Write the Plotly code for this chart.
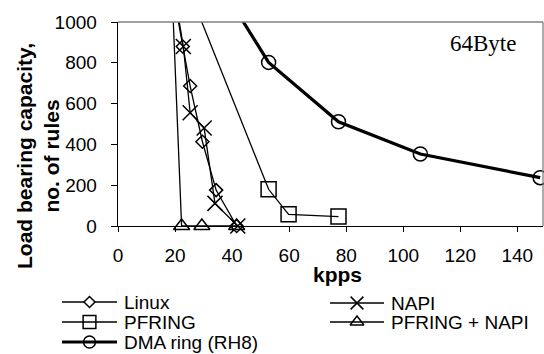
import plotly.graph_objects as go

# ---------------- data ----------------
x_ticks = [0, 20, 40, 60, 80, 100, 120, 140]
y_ticks = [0, 200, 400, 600, 800, 1000]

linux_x = [20.0, 22.7, 25.3, 29.6, 34.4, 41.6]
linux_y = [1090, 880, 686, 413, 176, 0]

napi_x = [20.3, 22.9, 25.3, 30.2, 34.0, 42.0]
napi_y = [1100, 880, 555, 480, 111, 0]

pfring_x = [26.5, 52.8, 59.8, 77.3]
pfring_y = [1100, 180, 57, 46]

pfnapi_x = [19.1, 22.3, 29.4, 41.6]
pfnapi_y = [1100, 0, 0, 0]

dma_x = [39.5, 52.8, 77.3, 106.0, 148.0]
dma_y = [1100, 802, 511, 353, 237]

series_names = ["Linux", "NAPI", "PFRING", "PFRING + NAPI", "DMA ring (RH8)"]

# ---------------- layout geometry (pixels) ----------------
W, H = 544, 354
PL, PR, PT, PB = 118, 543, 22, 226
Y_MAX = 1000

def px(x):
    return x / W

def py(y):
    return 1 - y / H

FONT = "Liberation Sans, Arial, sans-serif"

styles = {
    "Linux": dict(symbol="diamond-open", size=10, lw=1.3),
    "NAPI": dict(symbol="x-thin-open", size=15, lw=1.3),
    "PFRING": dict(symbol="square-open", size=15, lw=1.3),
    "PFRING + NAPI": dict(symbol="triangle-up-open", size=14, lw=1.3),
    "DMA ring (RH8)": dict(symbol="circle-open", size=14, lw=3.2),
}

data = {
    "Linux": (linux_x, linux_y),
    "NAPI": (napi_x, napi_y),
    "PFRING": (pfring_x, pfring_y),
    "PFRING + NAPI": (pfnapi_x, pfnapi_y),
    "DMA ring (RH8)": (dma_x, dma_y),
}

fig = go.Figure()

for name in series_names:
    xs, ys = data[name]
    st = styles[name]
    # hide markers of points that lie above the visible range (line still drawn, clipped)
    op = [1 if v <= Y_MAX else 0 for v in ys]
    fig.add_trace(go.Scatter(
        x=xs, y=ys, name=name, mode="lines+markers",
        line=dict(color="black", width=st["lw"]),
        marker=dict(symbol=st["symbol"], size=st["size"], color="black",
                    opacity=op, line=dict(color="black", width=1.5)),
        cliponaxis=False,
        showlegend=False, hoverinfo="x+y+name",
        xaxis="x", yaxis="y",
    ))

# ---------------- hand-built legend (pixel axes x2/y2) ----------------
legend_pos = {
    "Linux": (62, 117, 302),
    "PFRING": (62, 117, 322),
    "DMA ring (RH8)": (62, 117, 342),
    "NAPI": (330, 384, 303),
    "PFRING + NAPI": (330, 384, 322),
}
annotations = []
for name in series_names:
    x0, x1, yy = legend_pos[name]
    st = styles[name]
    fig.add_trace(go.Scatter(
        x=[x0, x1], y=[yy, yy], mode="lines",
        line=dict(color="black", width=st["lw"]),
        showlegend=False, hoverinfo="skip", xaxis="x2", yaxis="y2",
    ))
    if name == "Linux":
        msym, mcol = "diamond", "white"
    else:
        msym, mcol = st["symbol"], "black"
    fig.add_trace(go.Scatter(
        x=[(x0 + x1) / 2], y=[yy], mode="markers",
        marker=dict(symbol=msym, size=st["size"] * 0.85, color=mcol,
                    line=dict(color="black", width=1.5)),
        showlegend=False, hoverinfo="skip", xaxis="x2", yaxis="y2",
    ))
    annotations.append(dict(
        text=name, x=px(x1 + 5), y=py(yy), xref="paper", yref="paper",
        xanchor="left", yanchor="middle", showarrow=False,
        font=dict(family=FONT, size=19, color="black"),
    ))

# axis titles and label
annotations.append(dict(
    text="<b>Load bearing capacity,<br>no. of rules</b>",
    x=px(38), y=py(156), xref="paper", yref="paper",
    xanchor="center", yanchor="middle", textangle=-90, showarrow=False,
    font=dict(family=FONT, size=21, color="black"),
))
annotations.append(dict(
    text="<b>kpps</b>", x=px(337), y=py(274), xref="paper", yref="paper",
    xanchor="center", yanchor="middle", showarrow=False,
    font=dict(family=FONT, size=21, color="black"),
))
annotations.append(dict(
    text="64Byte", x=px(483), y=py(43), xref="paper", yref="paper",
    xanchor="center", yanchor="middle", showarrow=False,
    font=dict(family="Liberation Serif, Times New Roman, serif", size=23, color="black"),
))

shapes = [
    dict(type="line", xref="x domain", yref="y domain", x0=0, x1=1, y0=1, y1=1,
         line=dict(color="#808080", width=1.3)),
    dict(type="line", xref="x domain", yref="y domain", x0=1, x1=1, y0=0, y1=1,
         line=dict(color="#808080", width=1.3)),
]

fig.update_layout(
    width=W, height=H,
    margin=dict(l=0, r=0, t=0, b=0, pad=0, autoexpand=False),
    paper_bgcolor="white", plot_bgcolor="rgba(0,0,0,0)",
    showlegend=False,
    xaxis=dict(
        domain=[px(PL), px(PR)], range=[0, 149], tickvals=x_ticks,
        showline=True, linecolor="black", linewidth=1.3,
        ticks="outside", ticklen=5, tickcolor="black", tickwidth=1,
        showgrid=False, zeroline=False, ticklabelstandoff=7,
        tickfont=dict(family=FONT, size=19, color="black"),
        anchor="y", fixedrange=True, automargin=False,
    ),
    yaxis=dict(
        domain=[py(PB), py(PT)], range=[0, Y_MAX], tickvals=y_ticks,
        showline=True, linecolor="black", linewidth=1.3,
        ticks="outside", ticklen=6, tickcolor="black", tickwidth=1,
        showgrid=False, zeroline=False, ticklabelstandoff=10,
        tickfont=dict(family=FONT, size=19, color="black"),
        anchor="x", fixedrange=True, automargin=False,
    ),
    xaxis2=dict(domain=[0, 1], range=[0, W], visible=False, anchor="y2",
                fixedrange=True, automargin=False),
    yaxis2=dict(domain=[0, 1], range=[H, 0], visible=False, anchor="x2",
                fixedrange=True, automargin=False),
    annotations=annotations,
    shapes=shapes,
)

fig.write_html(
    "out.html",
    config={"displayModeBar": False, "staticPlot": True},
    post_script="document.body.style.margin='0';document.body.style.padding='0';",
)
